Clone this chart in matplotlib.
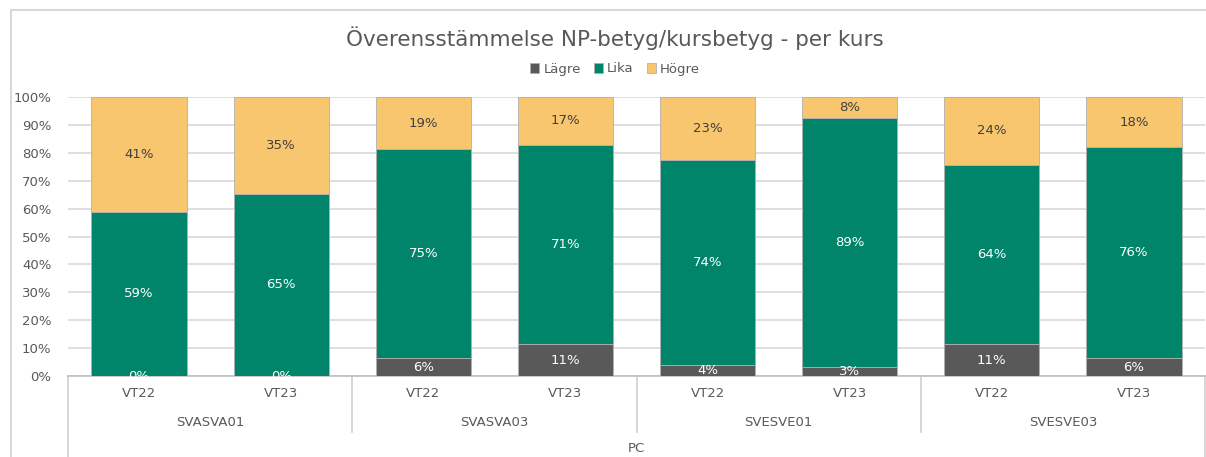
import numpy as np
import matplotlib.pyplot as plt
from matplotlib.lines import Line2D
from matplotlib.transforms import blended_transform_factory

#------------------
# Data
#------------------

terms = ["VT22", "VT23", "VT22", "VT23", "VT22", "VT23", "VT22", "VT23"]
courses = ["SVASVA01", "SVASVA03", "SVESVE01", "SVESVE03"]
group_label = "PC"

lagre = [0.0, 0.0, 6.4, 11.4, 3.8, 3.4, 11.4, 6.4]
lika = [58.8, 65.4, 74.8, 71.4, 73.6, 89.0, 64.4, 75.6]
hogre = [41.2, 34.6, 18.8, 17.2, 22.6, 7.6, 24.2, 18.0]

series_names = ["Lägre", "Lika", "Högre"]
colors = ["#595959", "#00856A", "#F8C66F"]
label_colors = ["white", "white", "#404040"]

title = "Överensstämmelse NP-betyg/kursbetyg - per kurs"

#------------------
# Plot
#------------------

plt.rcParams['font.family'] = ['DejaVu Sans']
text_col = "#595959"

W, H = 1206, 457
fig = plt.figure(figsize=(W / 100, H / 100), dpi=100)
ax = fig.add_axes([68 / W, (H - 376) / H, (1205 - 68) / W, (376 - 97) / H])

x = np.arange(len(terms))
bottom = np.zeros(len(terms))
for vals, name, col, lcol in zip([lagre, lika, hogre], series_names, colors, label_colors):
    vals = np.array(vals)
    ax.bar(x, vals, 0.67, bottom=bottom, color=col, edgecolor="#B0B0B0",
           linewidth=0.6, label=name, zorder=3)
    for xi, b, v in zip(x, bottom, vals):
        ax.text(xi, b + v / 2, f"{v:.0f}%", ha="center", va="center",
                fontsize=9.5, color=lcol, zorder=4)
    bottom += vals

ax.set_xlim(-0.5, len(terms) - 0.5)
ax.set_ylim(0, 100)
ax.set_yticks(np.arange(0, 101, 10))
ax.set_yticklabels([f"{v}%" for v in range(0, 101, 10)], fontsize=9.5, color=text_col)
ax.tick_params(axis="y", length=0, pad=12)
ax.set_xticks([])
ax.grid(axis="y", color="#D9D9D9", linewidth=1.2, zorder=0)
for s in ["top", "right", "left"]:
    ax.spines[s].set_visible(False)
ax.spines["bottom"].set_color("#BFBFBF")
ax.spines["bottom"].set_linewidth(1.2)

# multi-level category axis
trans = blended_transform_factory(ax.transData, ax.transAxes)
for xi, t in zip(x, terms):
    ax.text(xi, -0.063, t, transform=trans, ha="center", va="center",
            fontsize=9.5, color=text_col)
for i, c in enumerate(courses):
    ax.text(2 * i + 0.5, -0.165, c, transform=trans, ha="center", va="center",
            fontsize=9.5, color=text_col)
ax.text(3.5, -0.26, group_label, transform=trans, ha="center", va="center",
        fontsize=9.5, color=text_col)
for b in [1.5, 3.5, 5.5]:
    ax.plot([b, b], [0, -0.2], transform=trans, color="#D0D0D0", lw=1.2, clip_on=False)
for b in [-0.5, 7.5]:
    ax.plot([b, b], [0, -0.3], transform=trans, color="#D0D0D0", lw=1.2, clip_on=False)

fig.text(0.51, 1 - 38 / H, title, ha="center", va="center", fontsize=15.5, color=text_col)
fig.legend(loc="center", bbox_to_anchor=(0.51, 1 - 69 / H), ncol=3, frameon=False,
           fontsize=9.5, labelcolor=text_col, handlelength=0.7, handleheight=0.7,
           handletextpad=0.3, columnspacing=1.0)

# chart area border
fig.add_artist(Line2D([11 / W, 1], [1 - 10 / H, 1 - 10 / H], color="#D9D9D9", lw=1.5))
fig.add_artist(Line2D([11 / W, 11 / W], [0, 1 - 10 / H], color="#D9D9D9", lw=1.5))

fig.savefig("out.png", dpi=100)
